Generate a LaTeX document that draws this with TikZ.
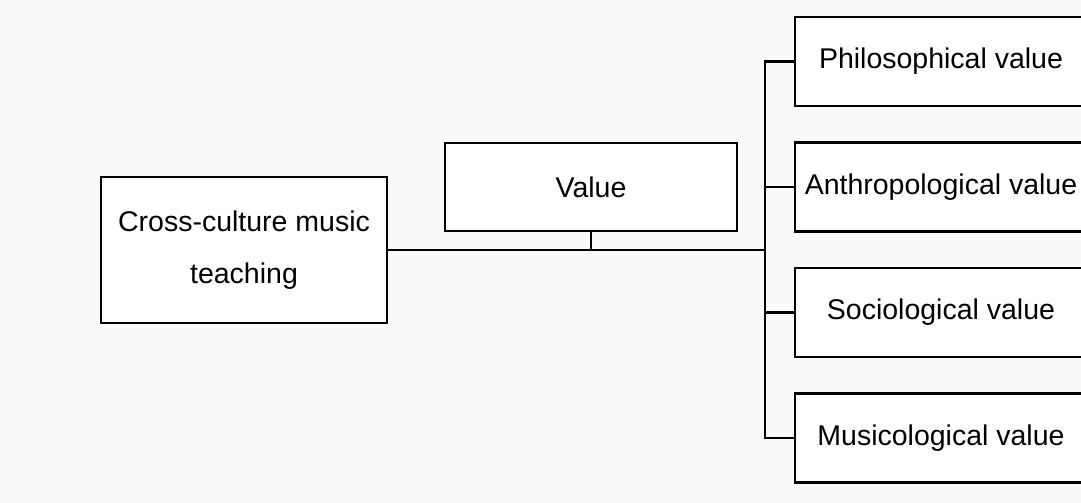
\documentclass[tikz,border=0pt]{standalone}
\usepackage{fontspec}
\setmainfont{Liberation Sans}
\usepackage{tikz}
\usetikzlibrary{positioning}
\tikzset{box/.style = {draw=black, line width=2.6pt, fill=white, align=center, inner sep=0pt,
  font=\fontsize{28.5}{52}\selectfont}}
\tikzset{link/.style = {draw=black, line width=2.6pt}}

\begin{document}
\begin{tikzpicture} [x=1pt,y=-1pt]
\useasboundingbox (0,0) rectangle (1081,503);
\clip (0,0) rectangle (1081,503);
\fill[black!2] (0,0) rectangle (1081,503);
\node[box, minimum width=286pt, minimum height=146pt] (cct) at (244,250) {Cross-culture music\\teaching};
\node[box, minimum width=292pt, minimum height=88pt] (val) at (591,187) {Value};
\foreach \name/\txt/\y in {phil/Philosophical value/61.5, anth/Anthropological value/187,
  soci/Sociological value/312.5, musi/Musicological value/438} {
 \node[box, minimum width=292pt, minimum height=89pt] (\name) at (941,\y) {\txt};
}
\coordinate (hub) at (765,250);
\draw[link] (cct.east) -- (hub);
\draw[link] (val.south) -- (val.south |- hub);
\draw[link] (phil.west) -- (phil.west -| hub) -- (musi.west -| hub) -- (musi.west);
\draw[link] (anth.west) -- (anth.west -| hub);
\draw[link] (soci.west) -- (soci.west -| hub);
\end{tikzpicture}
\end{document}
